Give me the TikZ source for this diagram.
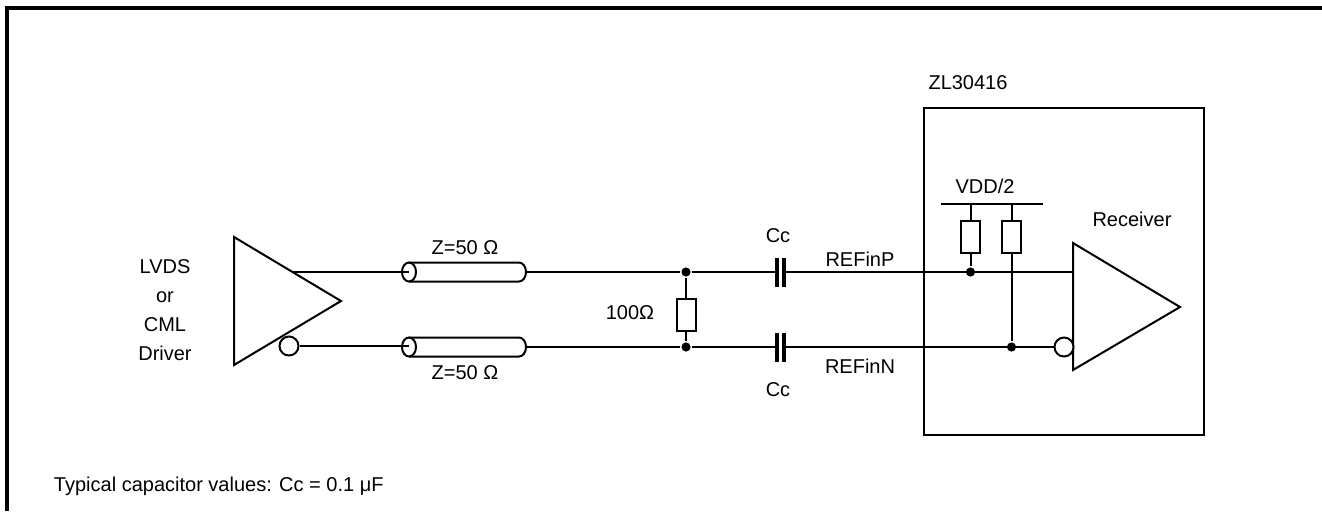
\documentclass[tikz,border=0pt]{standalone}
\usepackage{fontspec}
\setmainfont{Liberation Sans}
\begin{document}
\begin{tikzpicture}[x=0.5pt,y=-0.5pt,line width=1pt,
  lbl/.style={font=\fontsize{10}{12}\selectfont,inner sep=0pt},
  res/.style={draw,fill=white,minimum width=9.5pt,minimum height=16pt,inner sep=0pt},
  bubble/.style={draw,fill=white,circle,minimum size=9.5pt,inner sep=0pt},
  plate/.style={line width=1.6pt},
  dot/.style={fill=black,circle,minimum size=4.6pt,inner sep=0pt}]
\useasboundingbox (0,0) rectangle (1322,511);
\draw[line width=1.6pt] (7,511) -- (7,8) -- (1322,8);

% driver
\coordinate (dA) at (234,237);
\coordinate (dB) at (234,365);
\coordinate (dTip) at (341,301);
\draw (dA) -- (dB) -- (dTip) -- cycle;
\coordinate (dP) at (292,272);
\node[bubble] (dbub) at (289,346) {};
\node[lbl,align=center,font=\fontsize{10}{14.5}\selectfont] (drvlbl) at (165,310) {LVDS\\or\\CML\\Driver};

% coax cables
\coordinate (cxP) at (409,272);
\coordinate (cxPe) at (526,272);
\coordinate (cxN) at (409,347);
\coordinate (cxNe) at (526,347);
\foreach \c/\e in {cxP/cxPe,cxN/cxNe}{
  \draw ([yshift=4.75pt]\c) -- ([xshift=-3.5pt,yshift=4.75pt]\e)
        arc[start angle=90,end angle=-90,x radius=3.5pt,y radius=4.75pt]
        -- ([yshift=-4.75pt]\c);
  \draw (\c) ellipse [x radius=3.5pt,y radius=4.75pt];
}
\node[lbl] (zP) at (465,248) {Z=50 Ω};
\node[lbl] (zN) at (465,373) {Z=50 Ω};

\draw (dP) -- (cxP);
\draw (dbub.east) -- (dbub.east -| cxN);

% termination
\node[dot] (jP) at (686,272) {};
\node[dot] (jN) at (686,347) {};
\node[res] (r100) at (686,314.5) {};
\draw (jP) -- (r100) -- (jN);
\node[lbl] (r100lbl) at (630,313) {100Ω};
\draw (cxPe) -- (jP);
\draw (cxNe) -- (jN);

% coupling caps
\coordinate (cPa) at (777,272);
\coordinate (cPb) at (784,272);
\coordinate (cNa) at (777,347);
\coordinate (cNb) at (784,347);
\draw[plate] ([yshift=7.25pt]cPa) -- ([yshift=-7.25pt]cPa);
\draw[plate] ([yshift=7.25pt]cPb) -- ([yshift=-7.25pt]cPb);
\draw[plate] ([yshift=7.25pt]cNa) -- ([yshift=-7.25pt]cNa);
\draw[plate] ([yshift=7.25pt]cNb) -- ([yshift=-7.25pt]cNb);
\draw (jP) -- (cPa);
\draw (jN) -- (cNa);
\node[lbl] (ccP) at (778,236) {Cc};
\node[lbl] (ccN) at (778,390) {Cc};
\node[lbl] (refP) at (860,259) {REFinP};
\node[lbl] (refN) at (860,366) {REFinN};

% ZL30416
\draw (924,108) rectangle (1204,435);
\node[lbl] (chip) at (968,83) {ZL30416};

\coordinate (rA) at (1073,243);
\coordinate (rB) at (1073,370);
\coordinate (rTip) at (1180,307);
\draw (rA) -- (rB) -- (rTip) -- cycle;
\node[bubble] (rbub) at (1064,347) {};
\node[lbl] (rcvlbl) at (1132,219) {Receiver};
\draw (cPb) -- (cPb -| rA);
\draw (cNb) -- (rbub.west);

% bias to VDD/2
\coordinate (vL) at (941,204);
\coordinate (vR) at (1043,204);
\draw (vL) -- (vR);
\node[lbl] (vdd) at (985,186) {VDD/2};
\node[res] (rbP) at (970.5,237) {};
\node[res] (rbN) at (1011.5,237) {};
\node[dot] (bP) at (970.5,272) {};
\node[dot] (bN) at (1011.5,347) {};
\draw (rbP |- vL) -- (rbP) -- (bP);
\draw (rbN |- vL) -- (rbN) -- (bN);

\node[lbl,anchor=west] (note) at (53,486) {Typical capacitor values: Cc = 0.1 μF};
\end{tikzpicture}
\end{document}
